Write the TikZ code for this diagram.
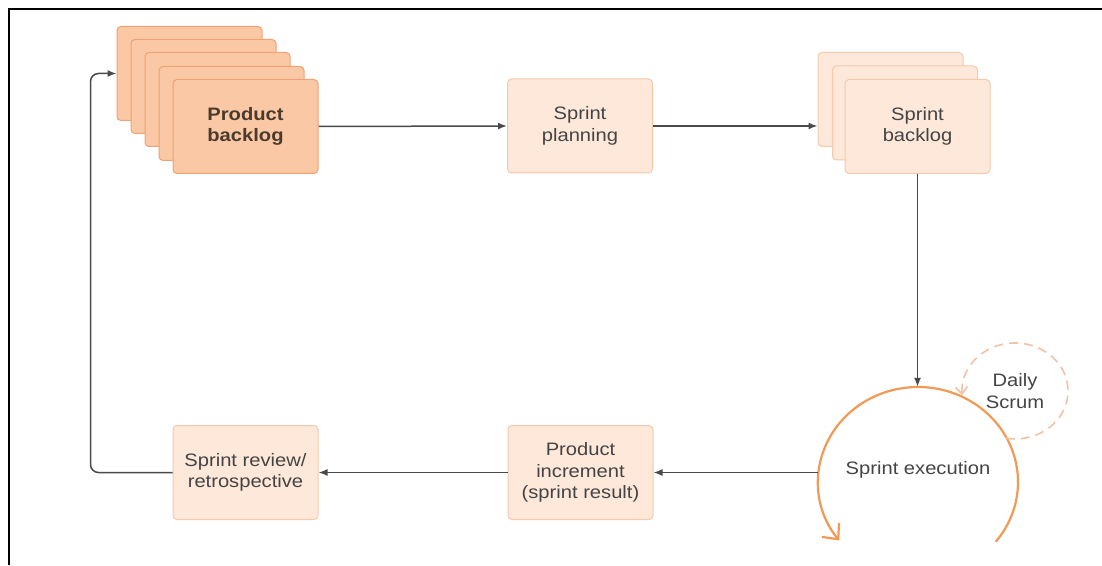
\documentclass[tikz,border=0pt]{standalone}
\usepackage{fontspec}
\setmainfont{Liberation Sans}[FakeStretch=1.12]
\usetikzlibrary{arrows.meta,shapes.geometric,calc}

\definecolor{pbfill}{HTML}{FAC8A4}
\definecolor{pbdraw}{HTML}{EFA273}
\definecolor{ltfill}{HTML}{FEE8DA}
\definecolor{ltdraw}{HTML}{F5C9AB}
\definecolor{arcorange}{HTML}{F29A55}
\definecolor{dashorange}{HTML}{F0C3A6}
\definecolor{flowgray}{HTML}{4A4A4A}
\definecolor{txtgray}{HTML}{444444}
\definecolor{txtbrown}{HTML}{4B3A2E}

\begin{document}
\begin{tikzpicture}[x=1pt,y=1pt,
  basebox/.style={rectangle, rounded corners=4pt, line width=1pt,
    minimum width=145pt, minimum height=94pt, inner sep=0pt,
    align=center, font=\fontsize{18}{21.5}\selectfont, text=txtgray},
  darkcard/.style={basebox, fill=pbfill, draw=pbdraw},
  lightcard/.style={basebox, fill=ltfill, draw=ltdraw},
  flow/.style={draw=flowgray, line width=1.5pt, -{Latex[length=9pt,width=7pt]}},
  label/.style={align=center, font=\fontsize{18}{21.5}\selectfont, text=txtgray}
]
\useasboundingbox (0,0) rectangle (1102,565);
\fill[white] (0,0) rectangle (1102,565);

% frame lines
\draw[line width=2pt] (9,0) -- (9,556) -- (1102,556);

% product backlog stack
\node[darkcard] (pb1) at (189.5,491.5) {};
\node[darkcard] (pb2) at (203.5,478.5) {};
\node[darkcard] (pb3) at (217.5,465.5) {};
\node[darkcard] (pb4) at (231.5,451.5) {};
\node[darkcard, text=txtbrown, font=\fontsize{18}{21.5}\selectfont\bfseries] (pb) at (245.5,438.5) {Product\\backlog};

% sprint planning
\node[lightcard] (sp) at (580,439) {Sprint\\planning};

% sprint backlog stack
\node[lightcard] (sb1) at (890.5,465.5) {};
\node[lightcard] (sb2) at (905,452) {};
\node[lightcard] (sb) at (917.5,438.5) {Sprint\\backlog};

% bottom row
\node[lightcard] (pi) at (580.5,92.5) {Product\\increment\\(sprint result)};
\node[lightcard] (rev) at (245.5,92.5) {Sprint review/\\retrospective};

% sprint execution loop
\node[ellipse, minimum width=200pt, minimum height=190pt, inner sep=0pt] (exec) at (918,83) {};
\node[label] (exectext) at (918,95) {Sprint execution};
\draw[arcorange, line width=2.2pt, -{Straight Barb[length=12pt,width=22pt,line width=2.2pt]}]
  ($(exec.center)+(-39:100 and 95)$) arc[start angle=-39, end angle=218, x radius=100, y radius=95];

% daily scrum loop
\node[ellipse, minimum width=106pt, minimum height=96pt, inner sep=0pt, label] (ds) at (1015,174) {Daily\\Scrum};
\draw[dashorange, line width=1.6pt, dash pattern=on 9pt off 6pt, -{Straight Barb[length=7pt,width=12pt]}]
  ($(ds.center)+(-100:53 and 48)$) arc[start angle=-100, end angle=185, x radius=53, y radius=48];

% flow connectors
\draw[flow] (pb.east) -- (sp.west);
\draw[flow] (sp.east) -- (sp.east -| sb1.west);
\draw[flow] (sb.south) -- (sb.south |- exec.north);
\draw[flow] (pi.east -| exec.west) -- (pi.east);
\draw[flow] (pi.west) -- (rev.east);
\draw[flow, rounded corners=8pt] (rev.west) -- ++(-82,0) |- (pb1.west);
\end{tikzpicture}
\end{document}
